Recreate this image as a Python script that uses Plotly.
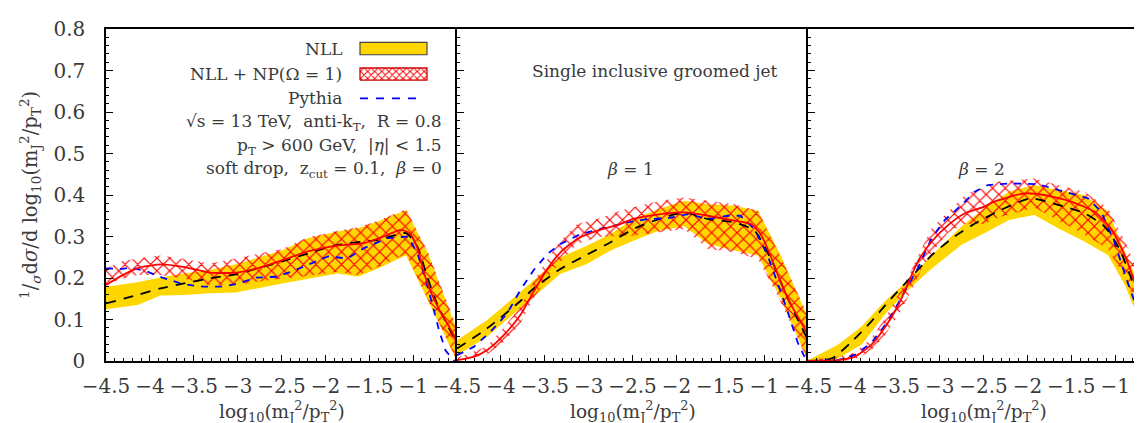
import plotly.graph_objects as go

# ---------------- data ----------------
# Panel 1: beta = 0
p1_nll_x = [-4.5, -4.14, -3.88, -3.61, -3.32, -3.02, -2.49, -2.2, -1.86, -1.63, -1.40, -1.08, -0.83, -0.5]
p1_nll_hi = [0.179, 0.190, 0.201, 0.211, 0.219, 0.233, 0.267, 0.296, 0.312, 0.320, 0.336, 0.364, 0.259, 0.075]
p1_nll_lo = [0.125, 0.135, 0.158, 0.159, 0.163, 0.165, 0.187, 0.199, 0.211, 0.203, 0.223, 0.255, 0.144, 0.0]
p1_np_x = [-4.5, -4.31, -4.14, -3.88, -3.61, -3.32, -3.02, -2.49, -2.2, -1.86, -1.63, -1.40, -1.08, -0.83, -0.5]
p1_np_hi = [0.222, 0.241, 0.247, 0.254, 0.246, 0.235, 0.247, 0.270, 0.298, 0.314, 0.322, 0.338, 0.366, 0.262, 0.08]
p1_np_lo = [0.182, 0.199, 0.207, 0.207, 0.199, 0.183, 0.184, 0.199, 0.205, 0.215, 0.207, 0.227, 0.258, 0.147, 0.0]
p1_nllc_x = [-4.5, -4.14, -3.88, -3.61, -3.32, -3.02, -2.49, -2.2, -1.86, -1.40, -1.08, -0.95, -0.85, -0.75, -0.62, -0.5]
p1_nllc_y = [0.139, 0.159, 0.175, 0.187, 0.199, 0.209, 0.240, 0.259, 0.280, 0.292, 0.308, 0.275, 0.21, 0.15, 0.09, 0.045]
p1_py_x = [-4.5, -4.31, -4.23, -4.05, -3.86, -3.62, -3.39, -3.2, -3.02, -2.79, -2.56, -2.39, -1.97, -1.75,
           -1.56, -1.29, -1.06, -0.95, -0.85, -0.77, -0.70, -0.63, -0.53]
p1_py_y = [0.223, 0.222, 0.225, 0.217, 0.201, 0.185, 0.179, 0.179, 0.185, 0.201, 0.203, 0.215, 0.252, 0.247,
           0.272, 0.296, 0.300, 0.259, 0.191, 0.127, 0.071, 0.025, 0.0]
p1_npc_x = [-4.5, -4.31, -4.12, -3.87, -3.62, -3.32, -3.02, -2.75, -2.49, -2.2, -1.86, -1.56, -1.29, -1.14,
            -1.04, -0.95, -0.88, -0.8, -0.69, -0.58, -0.5]
p1_npc_y = [0.183, 0.207, 0.225, 0.233, 0.227, 0.213, 0.213, 0.225, 0.243, 0.264, 0.278, 0.284, 0.304, 0.316,
            0.308, 0.272, 0.215, 0.167, 0.119, 0.079, 0.047]

# Panel 2: beta = 1
p2_nll_x = [-4.5, -4.16, -3.78, -3.63, -3.32, -3.02, -2.75, -2.49, -2.2, -1.91, -1.64, -1.34, -1.07, -0.81, -0.5]
p2_nll_hi = [0.050, 0.098, 0.166, 0.194, 0.250, 0.278, 0.306, 0.342, 0.366, 0.386, 0.378, 0.374, 0.362, 0.254, 0.105]
p2_nll_lo = [0.014, 0.058, 0.126, 0.154, 0.210, 0.234, 0.266, 0.290, 0.314, 0.325, 0.282, 0.266, 0.254, 0.150, 0.0]
p2_np_x = [-4.5, -4.16, -3.97, -3.78, -3.63, -3.47, -3.32, -3.13, -2.90, -2.64, -2.5, -2.18, -1.91, -1.64,
           -1.34, -1.07, -0.81, -0.5]
p2_np_hi = [0.008, 0.035, 0.08, 0.13, 0.19, 0.245, 0.29, 0.33, 0.342, 0.362, 0.37, 0.386, 0.394, 0.386,
            0.378, 0.362, 0.25, 0.11]
p2_np_lo = [0.0, 0.015, 0.045, 0.09, 0.15, 0.2, 0.24, 0.282, 0.298, 0.302, 0.302, 0.31, 0.318, 0.27,
            0.262, 0.246, 0.142, 0.0]
p2_nllc_x = [-4.5, -4.16, -3.78, -3.63, -3.32, -3.02, -2.75, -2.49, -2.2, -1.91, -1.64, -1.34, -1.11, -0.92, -0.75, -0.5]
p2_nllc_y = [0.030, 0.078, 0.144, 0.174, 0.222, 0.256, 0.286, 0.318, 0.342, 0.358, 0.342, 0.334, 0.314, 0.245, 0.16, 0.05]
p2_py_x = [-4.5, -4.31, -4.12, -3.93, -3.78, -3.63, -3.47, -3.32, -3.09, -2.87, -2.56, -2.33, -2.1, -1.87,
           -1.64, -1.42, -1.27, -1.11, -0.96, -0.85, -0.73, -0.62, -0.54]
p2_py_y = [0.014, 0.034, 0.070, 0.114, 0.170, 0.218, 0.258, 0.282, 0.306, 0.318, 0.334, 0.342, 0.344, 0.354,
           0.342, 0.350, 0.350, 0.318, 0.254, 0.190, 0.118, 0.046, 0.010]
p2_npc_x = [-4.5, -4.31, -4.16, -3.97, -3.78, -3.63, -3.47, -3.32, -3.13, -2.90, -2.64, -2.5, -2.18, -1.91,
            -1.64, -1.34, -1.15, -1.04, -0.92, -0.81, -0.69, -0.58, -0.5]
p2_npc_y = [0.002, 0.010, 0.026, 0.062, 0.110, 0.166, 0.222, 0.262, 0.294, 0.314, 0.330, 0.342, 0.354, 0.358,
            0.350, 0.338, 0.330, 0.306, 0.250, 0.190, 0.134, 0.094, 0.062]

# Panel 3: beta = 2
p3_nll_x = [-4.5, -4.16, -3.89, -3.63, -3.40, -3.09, -2.75, -2.49, -2.21, -1.92, -1.65, -1.35, -1.08, -0.89, -0.67, -0.5]
p3_nll_hi = [0.002, 0.039, 0.083, 0.143, 0.187, 0.255, 0.324, 0.368, 0.408, 0.424, 0.412, 0.400, 0.360, 0.263, 0.159, 0.09]
p3_nll_lo = [0.0, 0.006, 0.039, 0.111, 0.163, 0.223, 0.280, 0.308, 0.340, 0.352, 0.320, 0.288, 0.255, 0.183, 0.070, 0.0]
p3_np_x = [-4.5, -4.16, -3.97, -3.78, -3.63, -3.47, -3.32, -3.21, -3.09, -2.90, -2.71, -2.60, -2.49, -2.34,
           -1.92, -1.65, -1.35, -1.08, -0.89, -0.67, -0.5]
p3_np_hi = [0.003, 0.01, 0.02, 0.055, 0.10, 0.16, 0.22, 0.27, 0.32, 0.36, 0.40, 0.412, 0.416, 0.432,
            0.44, 0.424, 0.408, 0.368, 0.29, 0.18, 0.11]
p3_np_lo = [0.0, 0.0, 0.003, 0.025, 0.06, 0.11, 0.17, 0.22, 0.26, 0.31, 0.33, 0.33, 0.33, 0.345,
            0.37, 0.34, 0.305, 0.27, 0.2, 0.09, 0.0]
p3_nllc_x = [-4.5, -4.23, -4.0, -3.78, -3.55, -3.32, -3.09, -2.83, -2.56, -2.26, -1.96, -1.65, -1.35, -1.12,
             -0.95, -0.8, -0.65, -0.5]
p3_nllc_y = [0.0, 0.006, 0.047, 0.095, 0.151, 0.203, 0.255, 0.300, 0.336, 0.368, 0.392, 0.376, 0.356, 0.324,
             0.27, 0.19, 0.11, 0.04]
p3_py_x = [-4.5, -4.16, -3.97, -3.78, -3.59, -3.40, -3.25, -3.09, -2.94, -2.75, -2.60, -2.45, -2.19, -1.88,
           -1.58, -1.31, -1.16, -1.01, -0.86, -0.71, -0.61, -0.57]
p3_py_y = [0.0, 0.002, 0.014, 0.043, 0.095, 0.167, 0.223, 0.296, 0.340, 0.376, 0.408, 0.424, 0.428, 0.426,
           0.408, 0.392, 0.360, 0.288, 0.191, 0.103, 0.022, 0.0]
p3_npc_x = [-4.5, -4.16, -3.97, -3.78, -3.63, -3.47, -3.36, -3.25, -3.09, -2.90, -2.71, -2.49, -2.38, -2.03,
            -1.81, -1.5, -1.24, -1.05, -0.89, -0.78, -0.67, -0.61, -0.5]
p3_npc_y = [0.0, 0.002, 0.010, 0.039, 0.079, 0.135, 0.187, 0.239, 0.288, 0.328, 0.356, 0.372, 0.384, 0.404,
            0.400, 0.384, 0.360, 0.320, 0.255, 0.191, 0.119, 0.087, 0.035]

panel_labels = ["", "<i>β</i> = 1", "<i>β</i> = 2"]
x_tick_vals = [-4.5, -4, -3.5, -3, -2.5, -2, -1.5, -1]
y_tick_vals = [0, 0.1, 0.2, 0.3, 0.4, 0.5, 0.6, 0.7, 0.8]

# ---------------- styling ----------------
FONT = "DejaVu Serif"
TXT = "#3a3a3a"
GOLD = "#FFD700"
W, H = 1142, 423
ML, MR, MT, MB = 98, 0, 21, 70
PW = W - ML - MR
PH = H - MT - MB
PX_PER_UNIT = 87.75
panel_px = 351


def px2paper_x(px):
    return (px - ML) / PW


def py2paper_y(py):
    return (H - MB - py) / PH


fig = go.Figure()

panels = [
    (p1_nll_x, p1_nll_hi, p1_nll_lo, p1_np_x, p1_np_hi, p1_np_lo, p1_nllc_x, p1_nllc_y, p1_py_x, p1_py_y, p1_npc_x, p1_npc_y),
    (p2_nll_x, p2_nll_hi, p2_nll_lo, p2_np_x, p2_np_hi, p2_np_lo, p2_nllc_x, p2_nllc_y, p2_py_x, p2_py_y, p2_npc_x, p2_npc_y),
    (p3_nll_x, p3_nll_hi, p3_nll_lo, p3_np_x, p3_np_hi, p3_np_lo, p3_nllc_x, p3_nllc_y, p3_py_x, p3_py_y, p3_npc_x, p3_npc_y),
]

for i, (nx, nhi, nlo, px_, phi, plo, cx, cy, yx, yy, rx, ry) in enumerate(panels):
    xa = "x" if i == 0 else f"x{i+1}"
    ya = "y" if i == 0 else f"y{i+1}"
    fig.add_trace(go.Scatter(x=nx + nx[::-1], y=nhi + nlo[::-1], fill="toself", fillcolor=GOLD,
                             line=dict(width=0), mode="lines", xaxis=xa, yaxis=ya, showlegend=False,
                             hoverinfo="skip"))
    fig.add_trace(go.Scatter(x=px_ + px_[::-1], y=phi + plo[::-1], fill="toself",
                             fillcolor="rgba(0,0,0,0)",
                             fillpattern=dict(shape="x", fgcolor="#ff0000", fgopacity=1,
                                              bgcolor="rgba(0,0,0,0)",
                                              size=9, solidity=0.25, fillmode="overlay"),
                             line=dict(width=0), mode="lines", xaxis=xa, yaxis=ya, showlegend=False,
                             hoverinfo="skip"))
    fig.add_trace(go.Scatter(x=cx, y=cy, mode="lines", line=dict(color="black", width=1.8, dash="10px,8px",
                                                                 shape="spline", smoothing=0.6),
                             xaxis=xa, yaxis=ya, showlegend=False))
    fig.add_trace(go.Scatter(x=yx, y=yy, mode="lines", line=dict(color="#0000ff", width=1.8, dash="7px,7px"),
                             xaxis=xa, yaxis=ya, showlegend=False))
    fig.add_trace(go.Scatter(x=rx, y=ry, mode="lines", line=dict(color="red", width=1.8,
                                                                 shape="spline", smoothing=0.6),
                             xaxis=xa, yaxis=ya, showlegend=False))

# legend swatch for hatched band (drawn on panel-1 axes)
sw_x0 = -4.5 + (352 - ML) / PX_PER_UNIT
sw_x1 = -4.5 + (419 - ML) / PX_PER_UNIT
fig.add_trace(go.Scatter(x=[sw_x0, sw_x1, sw_x1, sw_x0, sw_x0], y=[0.677, 0.677, 0.706, 0.706, 0.677],
                         fill="toself", fillcolor="rgba(0,0,0,0)",
                         fillpattern=dict(shape="x", fgcolor="#ff0000", fgopacity=1, bgcolor="white",
                                          size=5, solidity=0.35, fillmode="overlay"),
                         line=dict(width=1.3, color="#d00000"), mode="lines", showlegend=False,
                         xaxis="x", yaxis="y", hoverinfo="skip"))

shapes = [
    dict(type="rect", xref="x", yref="y", x0=sw_x0, x1=sw_x1, y0=0.738, y1=0.768,
         fillcolor=GOLD, line=dict(color="#444", width=1.2)),
    dict(type="line", xref="x", yref="y", x0=sw_x0, x1=sw_x1 - 0.1, y0=0.633, y1=0.633,
         line=dict(color="#0000ff", width=1.8, dash="8px,8px")),
]

axis_common = dict(showline=True, linecolor="black", linewidth=1.5, ticks="inside", tickcolor="black",
                   tickwidth=1.2, showgrid=False, zeroline=False,
                   tickfont=dict(family=FONT, size=20, color=TXT))

doms = [(0, panel_px / PW), (panel_px / PW, 2 * panel_px / PW), (2 * panel_px / PW, 1.0)]
ranges = [[-4.5, -0.5], [-4.5, -0.5], [-4.5, -4.5 + (PW - 2 * panel_px) / PX_PER_UNIT]]

layout = dict(width=W, height=H, margin=dict(l=ML, r=MR, t=MT, b=MB), plot_bgcolor="white",
              paper_bgcolor="white", showlegend=False, shapes=shapes,
              font=dict(family=FONT, color=TXT))
for i in range(3):
    xk = "xaxis" if i == 0 else f"xaxis{i+1}"
    yk = "yaxis" if i == 0 else f"yaxis{i+1}"
    layout[xk] = dict(axis_common, domain=list(doms[i]), range=ranges[i], tickvals=x_tick_vals,
                      ticklen=6, mirror=True, anchor="y" if i == 0 else f"y{i+1}",
                      ticklabelstandoff=6,
                      minor=dict(dtick=0.1, tick0=-4.5, ticks="inside", ticklen=3, tickcolor="black",
                                 tickwidth=1))
    layout[yk] = dict(axis_common, domain=[0, 1], range=[0, 0.8], tickvals=y_tick_vals, ticklen=7.5,
                      anchor="x" if i == 0 else f"x{i+1}", showticklabels=(i == 0),
                      ticklabelstandoff=15,
                      minor=dict(dtick=0.02, tick0=0, ticks="inside", ticklen=3.5, tickcolor="black",
                                 tickwidth=1))
fig.update_layout(**layout)

ann_font = dict(family=FONT, size=17, color=TXT)
annotations = []
# legend labels and info text (right aligned)
for txt, rx, cy in [
    ("NLL", 336, 41),
    ("NLL + NP(Ω = 1)", 336, 66),
    ("Pythia", 336, 90),
    ("√s = 13 TeV,  anti-k<sub>T</sub>,  R = 0.8", 436, 114),
    ("p<sub>T</sub> > 600 GeV,  |<i>η</i>| < 1.5", 436, 138),
    ("soft drop,  z<sub>cut</sub> = 0.1,  <i>β</i> = 0", 436, 162),
]:
    annotations.append(dict(text=txt, xref="paper", yref="paper", x=px2paper_x(rx), y=py2paper_y(cy),
                            xanchor="right", yanchor="middle", showarrow=False, font=ann_font))
annotations.append(dict(text="Single inclusive groomed jet", xref="paper", yref="paper",
                        x=px2paper_x(647), y=py2paper_y(63), xanchor="center", yanchor="middle",
                        showarrow=False, font=ann_font))
for i, cx in [(1, 622), (2, 973)]:
    annotations.append(dict(text=panel_labels[i], xref="paper", yref="paper", x=px2paper_x(cx),
                            y=py2paper_y(161), xanchor="center", yanchor="middle", showarrow=False,
                            font=ann_font))
xtitle = "log<sub>10</sub>(m<sub>J</sub><sup>2</sup>/p<sub>T</sub><sup>2</sup>)"
for i in range(3):
    cx = ML + panel_px * i + panel_px / 2
    annotations.append(dict(text=xtitle, xref="paper", yref="paper", x=px2paper_x(cx), y=py2paper_y(404),
                            xanchor="center", yanchor="middle", showarrow=False,
                            font=dict(family=FONT, size=18.5, color=TXT)))
ytitle = "<sup>1</sup>/<sub><i>σ</i></sub>d<i>σ</i>/d log<sub>10</sub>(m<sub>J</sub><sup>2</sup>/p<sub>T</sub><sup>2</sup>)"
annotations.append(dict(text=ytitle, xref="paper", yref="paper", x=px2paper_x(22), y=0.5, textangle=-90,
                        xanchor="center", yanchor="middle", showarrow=False,
                        font=dict(family=FONT, size=19.5, color=TXT)))
fig.update_layout(annotations=annotations)

fig.write_html("out.html")
